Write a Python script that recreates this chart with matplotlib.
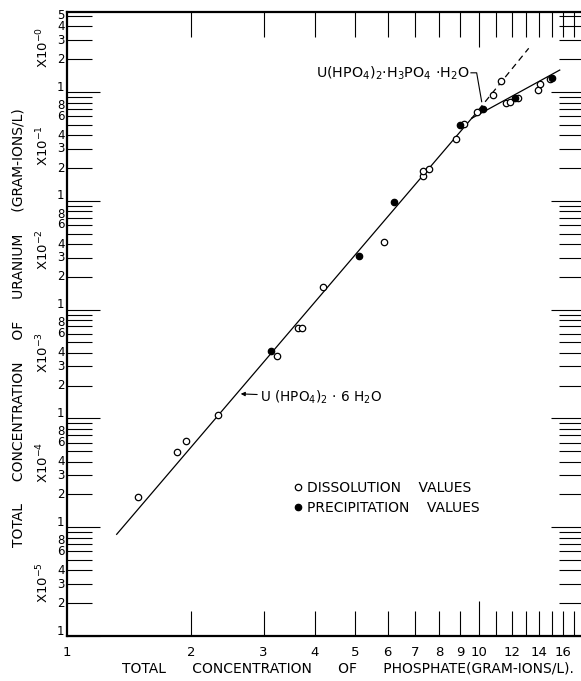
import numpy as np
import matplotlib
matplotlib.use("Agg")
import matplotlib.pyplot as plt
from matplotlib.ticker import FixedLocator, NullFormatter
from matplotlib.lines import Line2D
from matplotlib.transforms import offset_copy

plt.rcParams['font.family'] = ['DejaVu Sans']
plt.rcParams['mathtext.default'] = 'regular'

# dissolution values (open circles)
diss_x = [1.49, 1.85, 1.94, 2.33, 3.24, 3.63, 3.71, 4.19, 5.87, 7.30, 7.30, 7.55,
          8.81, 9.19, 9.87, 10.8, 11.3, 11.6, 11.9, 12.4, 13.9, 14.1, 14.9]
diss_y = [1.9e-4, 4.9e-4, 6.2e-4, 1.07e-3, 3.75e-3, 6.8e-3, 6.8e-3, 1.62e-2, 4.2e-2,
          0.170, 0.188, 0.195, 0.367, 0.508, 0.659, 0.94, 1.26, 0.80, 0.81, 0.88,
          1.04, 1.18, 1.32]

# precipitation values (filled circles)
prec_x = [3.13, 5.12, 6.23, 8.99, 10.2, 12.2, 15.0]
prec_y = [4.16e-3, 3.13e-2, 9.8e-2, 0.494, 0.693, 0.886, 1.345]

# solubility lines
hexa_x = [1.32, 9.60]
hexa_y = [8.6e-5, 0.573]
acid_x = [9.60, 15.7]
acid_y = [0.573, 1.59]
ext_x = [9.60, 13.2]
ext_y = [0.573, 2.52]

x_ticks = [2, 3, 4, 5, 6, 7, 8, 9, 10, 11, 12, 13, 14, 15, 16, 17]
x_labels = {1: '1', 2: '2', 3: '3', 4: '4', 5: '5', 6: '6', 7: '7', 8: '8', 9: '9',
            10: '10', 12: '12', 14: '14', 16: '16'}
decades = [-5, -4, -3, -2, -1, 0]
minor_labels = [2, 3, 4, 6, 8]
top_labels = [2, 3, 4, 5]

fig = plt.figure(figsize=(5.81, 6.81), dpi=100)
ax = fig.add_axes([0.1153, 0.0661, 0.8902, 0.9156])
ax.set_xscale('log')
ax.set_yscale('log')
ax.set_xlim(1, 18)
ax.set_ylim(1e-5, 5.38)

# lines
ax.plot(hexa_x, hexa_y, color='black', lw=0.9)
ax.plot(acid_x, acid_y, color='black', lw=0.9)
ax.plot(ext_x, ext_y, color='black', lw=0.9, dashes=(5, 3.5))

ax.plot(diss_x, diss_y, 'o', ms=4.6, mfc='white', mec='black', mew=0.9, zorder=3)
ax.plot(prec_x, prec_y, 'o', ms=4.6, mfc='black', mec='black', mew=0.9, zorder=4)

for s in ax.spines.values():
    s.set_linewidth(1.6)

# x ticks
ax.xaxis.set_major_locator(FixedLocator([10]))
ax.xaxis.set_minor_locator(FixedLocator([t for t in x_ticks if t != 10]))
ax.xaxis.set_major_formatter(NullFormatter())
ax.xaxis.set_minor_formatter(NullFormatter())
ax.tick_params(axis='x', which='major', direction='in', length=25, width=0.8,
               top=True, bottom=True)
ax.tick_params(axis='x', which='minor', direction='in', length=18, width=0.8,
               top=True, bottom=True)
for v, lab in x_labels.items():
    ax.text(v, -0.016, lab, transform=ax.get_xaxis_transform(), ha='center', va='top',
            fontsize=9.5)

# y ticks
ymaj = [10.0 ** d for d in decades]
ymin = [m * 10.0 ** d for d in decades for m in range(2, 10) if m * 10.0 ** d < 5.4]
ax.yaxis.set_major_locator(FixedLocator(ymaj))
ax.yaxis.set_minor_locator(FixedLocator(ymin))
ax.yaxis.set_major_formatter(NullFormatter())
ax.yaxis.set_minor_formatter(NullFormatter())
ax.tick_params(axis='y', which='major', direction='in', length=24, width=0.8,
               left=True, right=True)
ax.tick_params(axis='y', which='minor', direction='in', length=18, width=0.8,
               left=True, right=True)
ytr = ax.get_yaxis_transform()
up_tr = offset_copy(ytr, fig=fig, x=0, y=3.5, units='points')
down_tr = offset_copy(ytr, fig=fig, x=0, y=-2.0, units='points')
for d in decades:
    ax.text(-0.005, 10.0 ** d, '1', transform=up_tr, ha='right', va='center', fontsize=8.5)
    labs = top_labels if d == 0 else minor_labels
    for m in labs:
        tr = down_tr if m == 8 else ytr
        ax.text(-0.005, m * 10.0 ** d, str(m), transform=tr, ha='right', va='center',
                fontsize=8.5)

# decade multipliers
mult_y = {0: 2.54, -1: 0.319, -2: 0.0353, -3: 4.07e-3, -4: 3.98e-4, -5: 3.1e-5}
for d, yv in mult_y.items():
    ax.text(-0.046, yv, r'X10$^{-%d}$' % abs(d), transform=ytr, rotation=90,
            ha='center', va='center', fontsize=9.5)

# compound labels
ax.annotate(r'U (HPO$_4$)$_2$ $\cdot$ 6 H$_2$O', xy=(2.64, 1.68e-3), xytext=(2.94, 1.57e-3),
            fontsize=9.8, ha='left', va='center',
            arrowprops=dict(arrowstyle='-|>', color='black', lw=0.8, mutation_scale=6,
                            shrinkA=0, shrinkB=0))
ax.text(9.51, 1.495, r'U(HPO$_4$)$_2$$\cdot$H$_3$PO$_4$ $\cdot$H$_2$O', fontsize=10.3,
        ha='right', va='center')
ax.plot([9.56, 9.87, 10.15], [1.50, 1.50, 0.814], color='black', lw=0.8)

# legend
handles = [Line2D([], [], ls='none', marker='o', ms=4.6, mfc='white', mec='black', mew=0.9),
           Line2D([], [], ls='none', marker='o', ms=4.6, mfc='black', mec='black', mew=0.9)]
ax.legend(handles, ['DISSOLUTION    VALUES', 'PRECIPITATION    VALUES'], loc='upper left',
          bbox_to_anchor=(0.438, 0.249), frameon=False, fontsize=10, handlelength=0.6,
          handletextpad=0.4, labelspacing=0.45, borderpad=0, borderaxespad=0)

fig.text(122 / 581, 1 - 669 / 681,
         'TOTAL      CONCENTRATION      OF      PHOSPHATE(GRAM-IONS/L).',
         ha='left', va='center', fontsize=10)
fig.text(19 / 581, 1 - 328 / 681,
         'TOTAL     CONCENTRATION     OF     URANIUM     (GRAM-IONS/L)',
         rotation=90, ha='center', va='center', fontsize=10)

fig.savefig('out.png', dpi=100)
